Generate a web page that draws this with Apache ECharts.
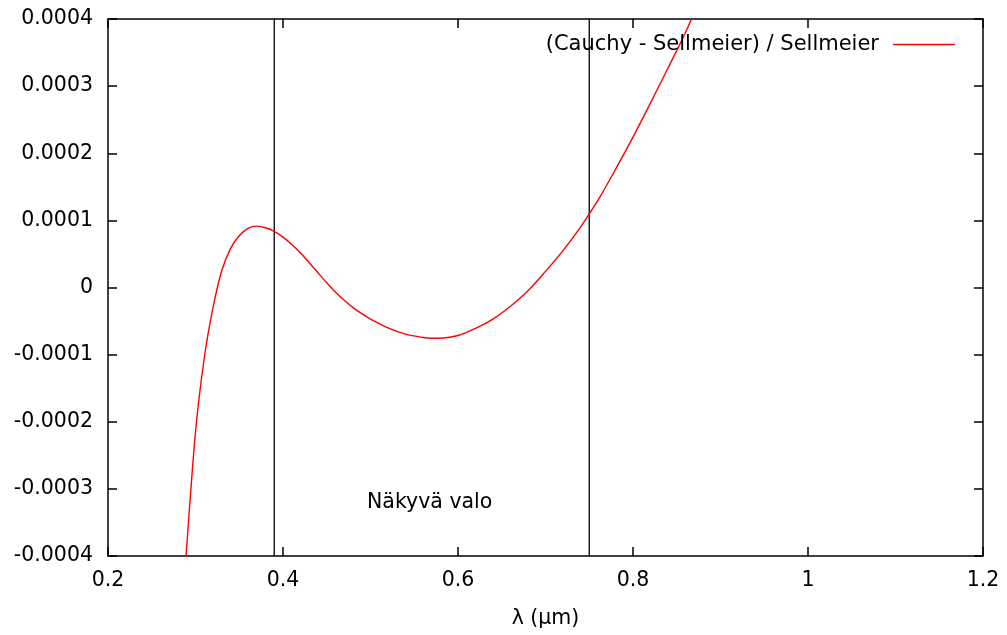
<!DOCTYPE html>
<html>
<head>
<meta charset="utf-8">
<script src="https://cdn.jsdelivr.net/npm/echarts@6/dist/echarts.min.js"></script>
<style>
  html, body { margin: 0; padding: 0; background: #fff; }
  #chart { width: 1007px; height: 635px; }
</style>
</head>
<body>
<div id="chart"></div>
<script>
// wavelength (µm) and relative difference (Cauchy - Sellmeier) / Sellmeier
const lambda = [0.28, 0.29, 0.30, 0.31, 0.32, 0.33, 0.34, 0.35, 0.36, 0.37, 0.38, 0.39, 0.40,
  0.41, 0.42, 0.43, 0.44, 0.45, 0.46, 0.47, 0.48, 0.49, 0.50, 0.52, 0.54, 0.56, 0.57, 0.58,
  0.60, 0.62, 0.64, 0.66, 0.68, 0.70, 0.72, 0.74, 0.76, 0.78, 0.80, 0.82, 0.84, 0.86, 0.88];
const relDiff = [-5.6e-4, -3.85e-4, -2.15e-4, -1.05e-4, -0.30e-4, 0.25e-4, 0.58e-4, 0.77e-4, 0.88e-4,
  0.915e-4, 0.89e-4, 0.835e-4, 0.75e-4, 0.64e-4, 0.515e-4, 0.37e-4, 0.22e-4, 0.07e-4, -0.07e-4,
  -0.19e-4, -0.30e-4, -0.39e-4, -0.47e-4, -0.60e-4, -0.695e-4, -0.745e-4, -0.757e-4, -0.755e-4,
  -0.715e-4, -0.61e-4, -0.47e-4, -0.28e-4, -0.05e-4, 0.24e-4, 0.55e-4, 0.90e-4, 1.30e-4,
  1.76e-4, 2.24e-4, 2.75e-4, 3.27e-4, 3.80e-4, 4.40e-4];
// visible light limits
const visibleBounds = [0.39, 0.75];
const visibleLabel = { text: 'Näkyvä valo', x: 0.496, y: -0.00032 };
const seriesName = '(Cauchy - Sellmeier) / Sellmeier';

const xMin = 0.2, xMax = 1.2, xStep = 0.2;
const yMin = -0.0004, yMax = 0.0004, yStep = 0.0001;

const font = 'DejaVu Sans';
const fs = 20.5;
const fmtY = v => Math.abs(v) < 1e-12 ? '0' : v.toFixed(4);
const fmtX = v => String(parseFloat(v.toFixed(1)));

const chart = echarts.init(document.getElementById('chart'));

const boxAxis = () => ({
  axisLine: { show: true, onZero: false, lineStyle: { color: '#000', width: 1.5 } },
  axisTick: { show: true, inside: true, length: 9, lineStyle: { color: '#000', width: 1.5 } },
  splitLine: { show: false }
});

const boundSeries = visibleBounds.map(b => ({
  type: 'line',
  data: [[b, yMin], [b, yMax]],
  symbol: 'none',
  silent: true,
  lineStyle: { color: '#000', width: 1.3 },
  z: 1
}));

chart.setOption({
  animation: false,
  backgroundColor: '#fff',
  textStyle: { fontFamily: font },
  grid: { left: 108, right: 24, top: 19, bottom: 79, outerBoundsMode: 'none' },
  legend: {
    data: [seriesName],
    right: 47,
    top: 29,
    align: 'right',
    icon: 'rect',
    itemWidth: 62,
    itemHeight: 1.5,
    textStyle: { fontFamily: font, fontSize: 21, color: '#000', padding: [0, 9, 0, 0] }
  },
  xAxis: [
    Object.assign({
      type: 'value', min: xMin, max: xMax, interval: xStep, position: 'bottom',
      name: 'λ (μm)', nameLocation: 'middle', nameGap: 52,
      nameTextStyle: { fontFamily: font, fontSize: fs, color: '#000' },
      axisLabel: { formatter: fmtX, fontFamily: font, fontSize: fs, color: '#000', margin: 14 }
    }, boxAxis()),
    Object.assign({
      type: 'value', min: xMin, max: xMax, interval: xStep, position: 'top',
      axisLabel: { show: false }
    }, boxAxis())
  ],
  yAxis: [
    Object.assign({
      type: 'value', min: yMin, max: yMax, interval: yStep, position: 'left',
      axisLabel: { formatter: fmtY, fontFamily: font, fontSize: fs, color: '#000', margin: 15 }
    }, boxAxis()),
    Object.assign({
      type: 'value', min: yMin, max: yMax, interval: yStep, position: 'right',
      axisLabel: { show: false }
    }, boxAxis())
  ],
  series: [
    {
      name: seriesName,
      type: 'line',
      data: lambda.map((l, i) => [l, relDiff[i]]),
      symbol: 'none',
      smooth: 0.3,
      clip: true,
      lineStyle: { color: '#ff0000', width: 1.4 },
      itemStyle: { color: '#ff0000' },
      z: 3
    },
    ...boundSeries,
    {
      type: 'scatter',
      data: [[visibleLabel.x, visibleLabel.y]],
      symbolSize: 0,
      silent: true,
      itemStyle: { opacity: 1 },
      label: {
        show: true,
        position: 'right',
        distance: 0,
        formatter: visibleLabel.text,
        fontFamily: font,
        fontSize: fs,
        color: '#000',
        opacity: 1,
        textBorderWidth: 0
      }
    }
  ]
});
</script>
</body>
</html>
